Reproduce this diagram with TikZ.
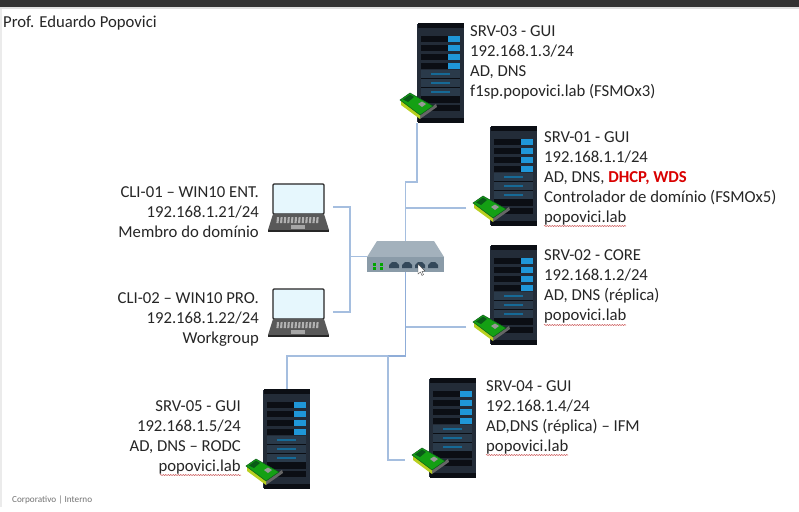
\documentclass[tikz,border=0pt]{standalone}
\usepackage{fontspec}
\setmainfont{Carlito}
\usepackage{xcolor}
\usetikzlibrary{decorations.pathmorphing}

\definecolor{rackbody}{HTML}{232C38}
\definecolor{rackdark}{HTML}{0B0E14}
\definecolor{rackpanel}{HTML}{2A3A4A}
\definecolor{rackblue}{HTML}{1F97D8}
\definecolor{linkblue}{HTML}{A5BEDF}
\definecolor{trunkblue}{HTML}{8FADD8}
\definecolor{boxgrey}{HTML}{A3B1BC}
\definecolor{boxfront}{HTML}{8A9BA8}
\definecolor{portdark}{HTML}{33485A}
\definecolor{nicgreen}{HTML}{14A014}
\definecolor{nicdark}{HTML}{0A5A18}
\definecolor{nicyellow}{HTML}{B9D020}

\tikzset{
    link/.style={draw=linkblue, line width=1.2pt},
    trunk/.style={draw=trunkblue, line width=1.6pt},
    srvtext/.style={anchor=north west, align=left, inner sep=0pt, text=black!85, font=\fontsize{16.7}{20}\selectfont},
    clitext/.style={anchor=north east, align=right, inner sep=0pt, text=black!85, font=\fontsize{16.7}{20}\selectfont},
    spell/.style={draw=red!70!black!70, line width=0.5pt, decorate, decoration={snake, amplitude=0.5pt, segment length=2.5pt}},
    pics/serverbox/.style={code={
        \fill[rackbody] (0,1) rectangle (47,99);
        \fill[rackdark] (0.5,0) rectangle (46.5,5);
        \fill[rackdark] (0.5,95) rectangle (46.5,100);
        % drive rows
        \foreach \y in {13,22,31,40} {
            \fill[rackdark] (4,\y) rectangle (31,\y+6);
            \fill[rackblue] (31,\y) rectangle (43,\y+6);
        }
        % panel rows
        \foreach \y in {47,56,65} {
            \fill[rackpanel] (4,\y) rectangle (43,\y+8);
            \fill[rackblue!70!black] (14,\y+2.5) rectangle (33,\y+4.5);
            \fill[rackdark] (4,\y+7.5) rectangle (43,\y+8);
        }
        \fill[rackdark] (4,74) rectangle (43,80);
        \fill[rackdark] (4,82) rectangle (43,88);
        % network card
        \fill[black!60] (3,91) -- (19,81) -- (20,84) -- (3,96) -- cycle;
        \fill[nicyellow] (-16,77) -- (3,91) -- (3,96) -- (-16,82) -- cycle;
        \fill[nicgreen, draw=nicdark, line width=0.5pt] (-17,77) -- (-7,70) -- (16,83) -- (3,92) -- cycle;
        \fill[nicdark] (-14,76.5) -- (-7,71.5) -- (-3,74) -- (-9,79) -- cycle;
        \fill[black!40] (1,81) -- (5,78.5) -- (9,81) -- (5,84) -- cycle;
        \coordinate (-port) at (-24,82);
        \coordinate (-foot) at (0,100);
        \coordinate (-head) at (24,0);
    }},
    pics/laptopbox/.style={code={
        \draw[black!85, fill=cyan!10, line width=1.2pt, rounded corners=1pt] (5,1) rectangle (56,31);
        \fill[black!65] (5,31) -- (56,31) -- (61,47) -- (0,47) -- cycle;
        \fill[black!85] (0,46.5) rectangle (61,48.5);
        \foreach \i in {0,...,11} {
            \fill[black!30] (9+\i*3.6,34) -- (11+\i*3.6,34) -- (10.6+\i*3.6,40) -- (8.4+\i*3.6,40) -- cycle;
        }
        \fill[black!35] (23,42) rectangle (37,46);
        \coordinate (-port) at (65,24);
    }},
}

\begin{document}
\begin{tikzpicture}[x=1pt, y=-1pt]
    \useasboundingbox (0,0) rectangle (799,511);
    \fill[white] (0,0) rectangle (799,511);
    \fill[black!80] (0,0) rectangle (799,7);
    \fill[black!12] (0,7) rectangle (799,9);
    \fill[black!8] (0,9) rectangle (1.5,507);

    \node[srvtext] (author) at (3,16) {Prof. Eduardo Popovici};
    \node[anchor=west, inner sep=0pt, text=black!55, font=\fontsize{9.2}{10}\selectfont] (footer) at (12,500) {Corporativo | Interno};

    % Servers
    \pic (srv3) at (417,23) {serverbox};
    \pic (srv1) at (490,126) {serverbox};
    \pic (srv2) at (490,245) {serverbox};
    \pic (srv4) at (429,378) {serverbox};
    \pic (srv5) at (263,389) {serverbox};

    % Clients
    \pic (cli1) at (268,183) {laptopbox};
    \pic (cli2) at (268,288) {laptopbox};

    % Switch
    \node[minimum width=77pt, minimum height=31pt, inner sep=0pt] (sw) at (405.5,256.5) {};
    \fill[boxgrey] (377,241) -- (434,241) -- (444,257) -- (367,257) -- cycle;
    \fill[boxfront] (367,257) rectangle (444,272);
    \foreach \x in {394,407,420,433} {
        \fill[portdark] (\x-5,268) -- (\x-5,265) -- (\x-2,262) -- (\x+2,262) -- (\x+5,265) -- (\x+5,268) -- cycle;
    }
    \foreach \x in {373,380} {
        \fill[green!65!black] (\x,263) rectangle (\x+3,266);
        \fill[green!65!black] (\x,267) rectangle (\x+3,270);
    }
    \fill[white, draw=black!70, line width=0.4pt] (418,264) -- (418,274) -- (420.5,272) -- (422,275.5) -- (423.5,274.5) -- (422,271.5) -- (425,271) -- cycle;

    % Links
    \coordinate (hub) at (350,256.5);
    \coordinate (riser) at (405.5,182);
    \coordinate (bus) at (405.5,356);
    \coordinate (drop) at (388,356);
    \draw[link] (srv3-foot) |- (riser) -- (sw.north);
    \draw[link] (srv1-port) -- (srv1-port -| sw.north);
    \draw[link] (cli1-port) -| (hub);
    \draw[link] (cli2-port) -| (hub);
    \draw[link] (hub) -- (sw.west);
    \draw[trunk] (sw.south) -- (bus);
    \draw[link] (srv2-port) -- (srv2-port -| sw.south);
    \draw[trunk] (bus) -- (drop);
    \draw[link] (drop) -| (srv5-head);
    \draw[link] (drop) |- (srv4-port);

    % Labels
    \node[srvtext] (lbl3) at (470,25) {SRV-03 - GUI\\192.168.1.3/24\\AD, DNS\\f1sp.popovici.lab (FSMOx3)};
    \node[srvtext] (lbl1) at (544,131) {SRV-01 - GUI\\192.168.1.1/24\\AD, DNS, \textcolor{red!85!black}{\textbf{DHCP, WDS}}\\Controlador de domínio (FSMOx5)\\popovici.lab};
    \node[srvtext] (lbl2) at (544,249) {SRV-02 - CORE\\192.168.1.2/24\\AD, DNS (réplica)\\popovici.lab};
    \node[srvtext] (lbl4) at (486,380) {SRV-04 - GUI\\192.168.1.4/24\\AD,DNS (réplica) – IFM\\popovici.lab};
    \node[clitext] (lbl5) at (241,400) {SRV-05 - GUI\\192.168.1.5/24\\AD, DNS – RODC\\popovici.lab};
    \node[clitext] (lblc1) at (259,186) {CLI-01 – WIN10 ENT.\\192.168.1.21/24\\Membro do domínio};
    \node[clitext] (lblc2) at (259,292) {CLI-02 – WIN10 PRO.\\192.168.1.22/24\\Workgroup};

    % Spell marks
    \draw[spell] (544,226) -- (626,226);
    \draw[spell] (544,325) -- (626,325);
    \draw[spell] (486,455) -- (568,455);
    \draw[spell] (160,475) -- (241,475);
\end{tikzpicture}
\end{document}
